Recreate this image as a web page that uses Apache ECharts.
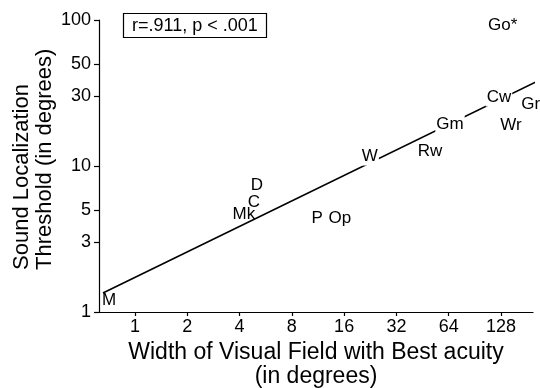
<!DOCTYPE html>
<html>
<head>
<meta charset="utf-8">
<script src="https://cdn.jsdelivr.net/npm/echarts@6/dist/echarts.min.js"></script>
<style>
  html, body { margin: 0; padding: 0; background: #fff; }
  #chart { width: 540px; height: 388px; }
</style>
</head>
<body>
<div id="chart"></div>
<script>
// species labels and their values (degrees)
const species = ['M', 'Mk', 'C', 'D', 'P', 'Op', 'W', 'Rw', 'Gm', 'Cw', 'Wr', 'Gr', 'Go*'];
const fieldWidth = [0.71, 4.24, 4.84, 5.04, 11.2, 15.1, 22.5, 49.9, 65.1, 124.6, 146, 190, 131];
const threshold = [1.21, 4.69, 5.67, 7.41, 4.40, 4.40, 11.7, 12.7, 19.4, 29.7, 19.1, 26.6, 92.4];

// regression line end points
const fitX = [0.654, 214.6];
const fitY = [1.35, 38.8];

const xTicks = [1, 2, 4, 8, 16, 32, 64, 128];
const yTicks = [1, 3, 5, 10, 30, 50, 100];

// labels that blank out the line behind them
const masked = ['W', 'Gm', 'Cw'];

const FONT = '"Liberation Sans", Arial, Helvetica, sans-serif';

const chart = echarts.init(document.getElementById('chart'));

const points = species.map((name, i) => {
  const item = {
    name: name,
    value: [Math.log2(fieldWidth[i]), Math.log10(threshold[i])]
  };
  if (masked.includes(name)) {
    item.label = { backgroundColor: '#fff', padding: [1, 1] };
  }
  return item;
});

const option = {
  animation: false,
  title: {
    text: 'r=.911, p < .001',
    left: 123,
    top: 13,
    padding: [4, 9, 3, 9],
    borderColor: '#000',
    borderWidth: 1.2,
    textStyle: { fontFamily: FONT, fontSize: 18, fontWeight: 'normal', color: '#000' }
  },
  grid: { left: 99, right: 7, top: 20, bottom: 76, outerBoundsMode: 'none' },
  xAxis: {
    type: 'value',
    min: -0.688,
    max: 7.612,
    name: 'Width of Visual Field with Best acuity\n(in degrees)',
    nameLocation: 'middle',
    nameGap: 24,
    nameTextStyle: { fontFamily: FONT, fontSize: 23, lineHeight: 24, color: '#000' },
    axisLine: { onZero: false, lineStyle: { color: '#000', width: 1.2 } },
    axisTick: { customValues: xTicks.map(Math.log2), length: 4, lineStyle: { color: '#000', width: 1.2 } },
    axisLabel: {
      customValues: xTicks.map(Math.log2),
      formatter: v => String(Math.round(Math.pow(2, v))),
      margin: 6,
      fontFamily: FONT,
      fontSize: 18,
      color: '#000'
    },
    splitLine: { show: false }
  },
  yAxis: {
    type: 'value',
    min: 0,
    max: 2,
    axisLine: { show: true, onZero: false, lineStyle: { color: '#000', width: 1.2 } },
    axisTick: { show: true, customValues: yTicks.map(Math.log10), length: 5, lineStyle: { color: '#000', width: 1.2 } },
    axisLabel: {
      customValues: yTicks.map(Math.log10),
      formatter: v => String(Math.round(Math.pow(10, v))),
      margin: 8,
      fontFamily: FONT,
      fontSize: 18,
      color: '#000'
    },
    splitLine: { show: false }
  },
  graphic: [
    {
      type: 'text',
      x: 33,
      y: 270,
      rotation: Math.PI / 2,
      style: {
        text: 'Sound Localization\nThreshold (in degrees)',
        textAlign: 'left',
        textVerticalAlign: 'middle',
        font: '22px ' + FONT,
        lineHeight: 23,
        fill: '#000'
      }
    }
  ],
  series: [
    {
      type: 'line',
      data: fitX.map((x, i) => [Math.log2(x), Math.log10(fitY[i])]),
      symbol: 'none',
      clip: false,
      lineStyle: { color: '#000', width: 1.6 },
      z: 2
    },
    {
      type: 'scatter',
      data: points,
      symbolSize: 1,
      itemStyle: { color: 'rgba(0,0,0,0)', opacity: 1 },
      label: {
        show: true,
        position: 'inside',
        formatter: p => p.name,
        fontFamily: FONT,
        fontSize: 17,
        color: '#000',
        opacity: 1,
        textBorderWidth: 0
      },
      z: 3
    }
  ]
};

chart.setOption(option);
</script>
</body>
</html>
